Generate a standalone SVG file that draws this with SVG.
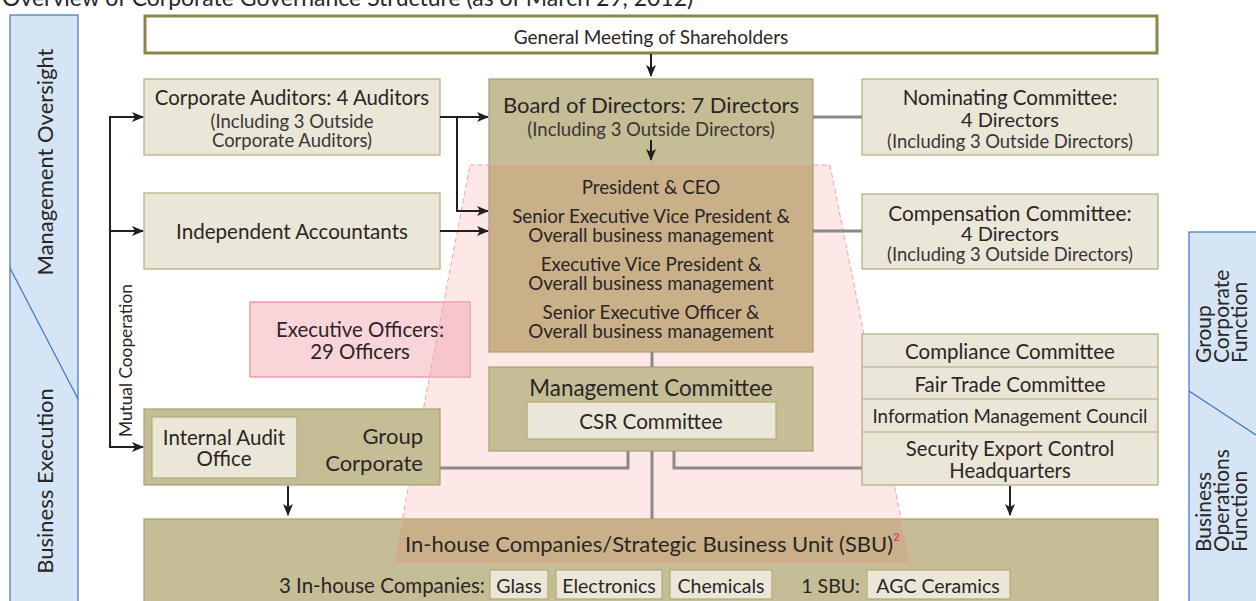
<svg xmlns="http://www.w3.org/2000/svg" width="1256" height="601" viewBox="0 0 1256 601">
<defs>
<style>
text{font-family:Lato,"Noto Sans","Liberation Sans",sans-serif;fill:#2a2626;}
.c{text-anchor:middle;dominant-baseline:central;}
.m{dominant-baseline:central;}
.e{text-anchor:end;dominant-baseline:central;}
.sub{fill:#3a3636;}
.pres{font-size:18.8px;}
.olive{fill:#c4bd96;stroke:#a8a06c;stroke-width:1.2;}
.light{fill:#eae6d8;stroke:#b3ab78;stroke-width:1.2;}
.bar{fill:#d5e5f5;stroke:#3b74c7;stroke-width:1.2;}
.gray{fill:none;stroke:#8a8a8c;stroke-width:3;}
.arr{fill:none;stroke:#231f20;stroke-width:2;marker-end:url(#ah);}
.bartext{font-size:22px;}
.rbar{font-size:21px;}
</style>
<marker id="ah" markerUnits="userSpaceOnUse" markerWidth="12" markerHeight="10" refX="11" refY="5" orient="auto">
<path d="M0,0 L12,5 L0,10 L3,5 z" fill="#231f20"/>
</marker>
</defs>

<text x="2" y="6" style="font-size:23px">Overview of Corporate Governance Structure (as of March 29, 2012)</text>

<g id="bar-left">
<rect class="bar" x="10" y="15" width="68" height="600"/>
<line x1="10" y1="268" x2="78" y2="399" stroke="#3b74c7" stroke-width="1.2"/>
<text class="bartext" transform="translate(53,162) rotate(-90)" text-anchor="middle">Management Oversight</text>
<text class="bartext" transform="translate(53,481) rotate(-90)" text-anchor="middle">Business Execution</text>
</g>

<g id="bar-right">
<rect class="bar" x="1189" y="232" width="80" height="380"/>
<line x1="1189" y1="391" x2="1256" y2="435" stroke="#3b74c7" stroke-width="1.2"/>
<text class="rbar" transform="translate(1211,363) rotate(-90)">Group</text>
<text class="rbar" transform="translate(1229,363) rotate(-90)">Corporate</text>
<text class="rbar" transform="translate(1247,363) rotate(-90)">Function</text>
<text class="rbar" transform="translate(1211,552) rotate(-90)">Business</text>
<text class="rbar" transform="translate(1229,552) rotate(-90)">Operations</text>
<text class="rbar" transform="translate(1247,552) rotate(-90)">Function</text>
</g>

<g id="general-meeting">
<rect x="145" y="16" width="1012" height="37" fill="#fff" stroke="#8b8548" stroke-width="3"/>
<text class="c" x="651" y="36" style="font-size:19px">General Meeting of Shareholders</text>
</g>

<g id="trapezoid">
<polygon points="470,165 830,165 910,563 394,563" fill="#fde7e7"/>
</g>

<g id="board">
<rect x="489" y="79" width="324" height="86" fill="#c4bd96"/>
<rect x="489" y="165" width="324" height="187" fill="#c9b089"/>
<rect x="489" y="79" width="324" height="273" fill="none" stroke="#a8a06c" stroke-width="1.2"/>
<text class="c" x="651" y="104" style="font-size:22px">Board of Directors: 7 Directors</text>
<text class="c sub" x="651" y="129" style="font-size:18.5px">(Including 3 Outside Directors)</text>
<text class="c pres" x="651" y="186">President &amp; CEO</text>
<text class="c pres" x="651" y="215">Senior Executive Vice President &amp;</text>
<text class="c pres" x="651" y="234">Overall business management</text>
<text class="c pres" x="651" y="263">Executive Vice President &amp;</text>
<text class="c pres" x="651" y="282">Overall business management</text>
<text class="c pres" x="651" y="311">Senior Executive Officer &amp;</text>
<text class="c pres" x="651" y="330">Overall business management</text>
</g>

<g id="exec-officers">
<rect x="250" y="302" width="220" height="75" fill="#f9d5d9" stroke="#ee8796" stroke-width="1.2"/>
<polygon points="443.8,302.5 469.5,302.5 469.5,376.5 429.5,376.5" fill="#f6c6cc"/>
<text class="c" x="360" y="329" style="font-size:20.4px">Executive Officers:</text>
<text class="c" x="360" y="351" style="font-size:20.4px">29 Officers</text>
</g>

<g id="band">
<rect class="olive" x="144" y="519" width="1014" height="90"/>
<polygon points="402.4,519.6 900.8,519.6 909.6,563 394,563" fill="#c9b089"/>
<text x="405" y="543" class="m" style="font-size:22px">In-house Companies/Strategic Business Unit (SBU)<tspan style="font-size:12px;font-weight:bold;fill:#e8435a" dy="-7">2</tspan></text>
<text x="485" y="585" class="e" style="font-size:20.5px">3 In-house Companies:</text>
<rect class="light" x="490" y="570" width="58" height="29"/>
<text class="c" x="519" y="585" style="font-size:19.5px">Glass</text>
<rect class="light" x="556" y="570" width="106" height="29"/>
<text class="c" x="609" y="585" style="font-size:19.5px">Electronics</text>
<rect class="light" x="670" y="570" width="102" height="29"/>
<text class="c" x="721" y="585" style="font-size:19.5px">Chemicals</text>
<text x="860" y="585" class="e" style="font-size:19.5px">1 SBU:</text>
<rect class="light" x="867" y="570" width="143" height="29"/>
<text class="c" x="938" y="585" style="font-size:19.5px">AGC Ceramics</text>
</g>

<g id="trapezoid-outline">
<polygon points="470,165 830,165 910,563 394,563" fill="none" stroke="#f0a3ad" stroke-width="1" stroke-dasharray="5,3"/>
</g>

<g id="corporate-auditors">
<rect class="light" x="144" y="79" width="296" height="76"/>
<text class="c" x="292" y="97" style="font-size:20.4px">Corporate Auditors: 4 Auditors</text>
<text class="c sub" x="292" y="121" style="font-size:18.5px">(Including 3 Outside</text>
<text class="c sub" x="292" y="140" style="font-size:18.5px">Corporate Auditors)</text>
</g>

<g id="independent-accountants">
<rect class="light" x="144" y="193" width="296" height="76"/>
<text class="c" x="292" y="231" style="font-size:20.6px">Independent Accountants</text>
</g>

<g id="group-corporate">
<rect class="olive" x="144" y="409" width="296" height="76"/>
<rect class="light" x="152" y="417" width="145" height="61"/>
<text class="c" x="224" y="437" style="font-size:20.5px">Internal Audit</text>
<text class="c" x="224" y="458" style="font-size:20.5px">Office</text>
<text x="423" y="435" class="e" style="font-size:22px">Group</text>
<text x="423" y="462" class="e" style="font-size:22px">Corporate</text>
</g>

<g id="management-committee">
<rect class="olive" x="489" y="367" width="324" height="84"/>
<text class="c" x="651" y="387" style="font-size:22.4px">Management Committee</text>
<rect class="light" x="527" y="402" width="249" height="37"/>
<text class="c" x="651" y="421" style="font-size:20.7px">CSR Committee</text>
</g>

<g id="nominating-committee">
<rect class="light" x="862" y="79" width="296" height="76"/>
<text class="c" x="1010" y="97" style="font-size:20.5px">Nominating Committee:</text>
<text class="c" x="1010" y="119" style="font-size:20px">4 Directors</text>
<text class="c sub" x="1010" y="141" style="font-size:18.4px">(Including 3 Outside Directors)</text>
</g>

<g id="compensation-committee">
<rect class="light" x="862" y="194" width="296" height="75"/>
<text class="c" x="1010" y="212" style="font-size:20.8px">Compensation Committee:</text>
<text class="c" x="1010" y="233" style="font-size:20px">4 Directors</text>
<text class="c sub" x="1010" y="254" style="font-size:18.4px">(Including 3 Outside Directors)</text>
</g>

<g id="committees">
<rect class="light" x="862" y="334" width="296" height="151"/>
<line x1="862" y1="367" x2="1158" y2="367" stroke="#b3ab78" stroke-width="1.2"/>
<line x1="862" y1="399" x2="1158" y2="399" stroke="#b3ab78" stroke-width="1.2"/>
<line x1="862" y1="432" x2="1158" y2="432" stroke="#b3ab78" stroke-width="1.2"/>
<text class="c" x="1010" y="351" style="font-size:20.5px">Compliance Committee</text>
<text class="c" x="1010" y="384" style="font-size:20.5px">Fair Trade Committee</text>
<text class="c" x="1010" y="416" style="font-size:18.7px">Information Management Council</text>
<text class="c" x="1010" y="448" style="font-size:20.3px">Security Export Control</text>
<text class="c" x="1010" y="470" style="font-size:20.3px">Headquarters</text>
</g>

<g id="connectors">
<line class="gray" x1="813" y1="117" x2="862" y2="117"/>
<line class="gray" x1="813" y1="231" x2="862" y2="231"/>
<line class="gray" x1="652" y1="352" x2="652" y2="367"/>
<line class="gray" x1="652" y1="451" x2="652" y2="519"/>
<polyline class="gray" points="440,468 628,468 628,451"/>
<polyline class="gray" points="674,451 674,468 862,468"/>
<line class="arr" x1="651" y1="54" x2="651" y2="76"/>
<line class="arr" x1="651" y1="140" x2="651" y2="160"/>
<line class="arr" x1="440" y1="117" x2="488" y2="117"/>
<polyline class="arr" points="457,117 457,211 488,211"/>
<line class="arr" x1="440" y1="231" x2="488" y2="231"/>
<line x1="110" y1="116" x2="110" y2="448" stroke="#231f20" stroke-width="2"/>
<line class="arr" x1="109" y1="117" x2="143" y2="117"/>
<line class="arr" x1="109" y1="231" x2="143" y2="231"/>
<line class="arr" x1="109" y1="447" x2="143" y2="447"/>
<text transform="translate(132,437) rotate(-90)" style="font-size:17.3px">Mutual Cooperation</text>
<line class="arr" x1="288" y1="486" x2="288" y2="515"/>
<line class="arr" x1="1010" y1="486" x2="1010" y2="515"/>
</g>
</svg>
